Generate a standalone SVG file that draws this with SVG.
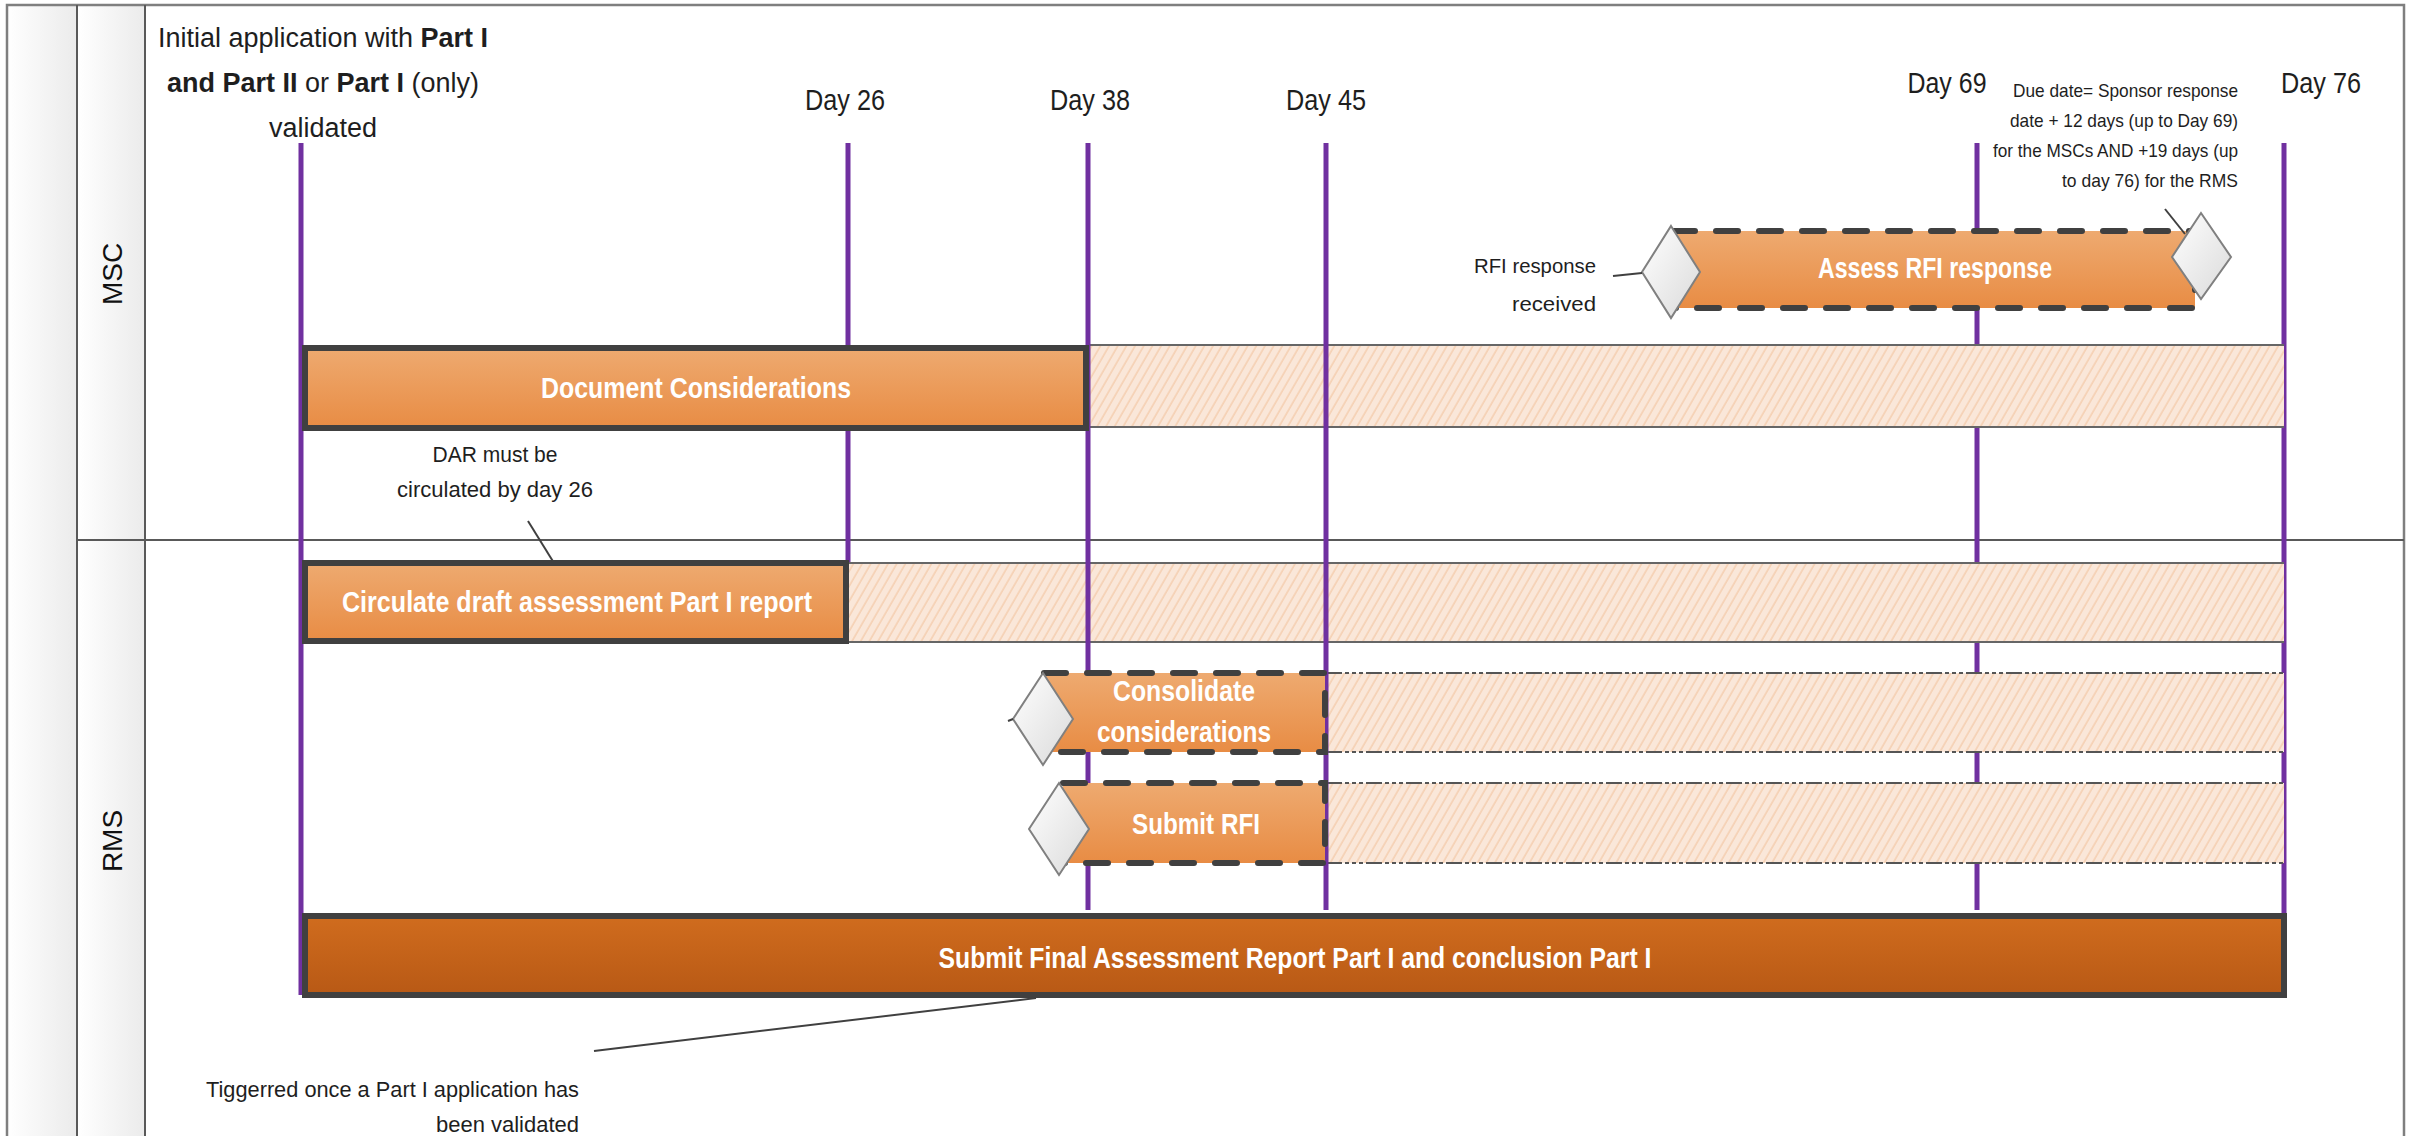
<svg xmlns="http://www.w3.org/2000/svg" width="2410" height="1136" viewBox="0 0 2410 1136">
<defs>
  <linearGradient id="gOrange" x1="0" y1="0" x2="0" y2="1">
    <stop offset="0" stop-color="#EEAA70"/>
    <stop offset="1" stop-color="#E88C44"/>
  </linearGradient>
  <linearGradient id="gDark" x1="0" y1="0" x2="0" y2="1">
    <stop offset="0" stop-color="#D06C1E"/>
    <stop offset="1" stop-color="#B85915"/>
  </linearGradient>
  <linearGradient id="gDiamond" x1="0" y1="0" x2="1" y2="1">
    <stop offset="0" stop-color="#FFFFFF"/>
    <stop offset="1" stop-color="#DADADA"/>
  </linearGradient>
  <linearGradient id="gCol" x1="0" y1="0" x2="1" y2="0">
    <stop offset="0" stop-color="#FFFFFF"/>
    <stop offset="1" stop-color="#EBEBEB"/>
  </linearGradient>
  <pattern id="hatch" width="7.5" height="7.5" patternUnits="userSpaceOnUse" patternTransform="rotate(30)">
    <rect width="7.5" height="7.5" fill="#FAE7D9"/>
    <line x1="1" y1="0" x2="1" y2="7.5" stroke="#F4CBAA" stroke-width="1.3"/>
  </pattern>
</defs>
<style>
  .t{font-family:"Liberation Sans",Arial,sans-serif;fill:#1e1e1e}
  .w{font-family:"Liberation Sans",Arial,sans-serif;fill:#FFFFFF;font-weight:bold;font-size:29px;text-anchor:middle}
  .day{font-size:30px;text-anchor:middle}
  .lane{font-size:28px;text-anchor:middle;fill:#111}
  .pl{stroke:#7030A0;stroke-width:5}
  .box{fill:url(#gOrange);stroke:#404040;stroke-width:6}
  .fbox{fill:url(#gDark);stroke:#404040;stroke-width:6}
  .dbox{fill:url(#gOrange);stroke:#404040;stroke-width:6;stroke-dasharray:22 21;stroke-linecap:round}
  .hatch{fill:url(#hatch);stroke:none}
  .hs{stroke:#666666;stroke-width:2}
  .hd{stroke:#555555;stroke-width:2;stroke-dasharray:16 3 4 3 4 3 4 3}
  .dia{fill:url(#gDiamond);stroke:#808080;stroke-width:2}
  .cn{stroke:#404040;stroke-width:2;fill:none}
</style>

<rect x="0" y="0" width="2410" height="1136" fill="#FFFFFF"/>

<g id="pool">
  <rect x="7" y="5" width="70" height="1140" fill="url(#gCol)"/>
  <rect x="77" y="5" width="68" height="1140" fill="url(#gCol)"/>
  <rect x="7" y="5" width="2397" height="1140" fill="none" stroke="#7F7F7F" stroke-width="2.5"/>
  <line x1="77" y1="5" x2="77" y2="1136" stroke="#595959" stroke-width="2"/>
  <line x1="145" y1="5" x2="145" y2="1136" stroke="#595959" stroke-width="2"/>
  <line x1="77" y1="540" x2="2404" y2="540" stroke="#595959" stroke-width="2"/>
</g>

<g id="lane-msc"><text class="t lane" transform="translate(122,274) rotate(-90)">MSC</text></g>
<g id="lane-rms"><text class="t lane" transform="translate(122,841) rotate(-90)">RMS</text></g>

<g id="milestone-labels">
  <text class="t" font-size="27" text-anchor="middle" x="323" y="47">Initial application with <tspan font-weight="bold">Part I</tspan></text>
  <text class="t" font-size="27" text-anchor="middle" x="323" y="92"><tspan font-weight="bold">and Part II</tspan> or <tspan font-weight="bold">Part I</tspan>  (only)</text>
  <text class="t" font-size="27" text-anchor="middle" x="323" y="137">validated</text>
  <text class="t day" x="845" y="110" textLength="80" lengthAdjust="spacingAndGlyphs">Day 26</text>
  <text class="t day" x="1090" y="110" textLength="80" lengthAdjust="spacingAndGlyphs">Day 38</text>
  <text class="t day" x="1326" y="110" textLength="80" lengthAdjust="spacingAndGlyphs">Day 45</text>
  <text class="t day" x="1947" y="93" textLength="79" lengthAdjust="spacingAndGlyphs">Day 69</text>
  <text class="t day" x="2321" y="93" textLength="80" lengthAdjust="spacingAndGlyphs">Day 76</text>
</g>

<g id="timeline-under">
  <line class="pl" x1="301" y1="143" x2="301" y2="995"/>
  <line class="pl" x1="848" y1="143" x2="848" y2="642"/>
  <line class="pl" x1="1977" y1="143" x2="1977" y2="910"/>
  <line class="pl" x1="2284" y1="143" x2="2284" y2="916"/>
</g>

<g id="hatch-doc">
  <rect class="hatch" x="1088" y="345" width="1196" height="82"/>
  <line class="hs" x1="1088" y1="345" x2="2284" y2="345"/>
  <line class="hs" x1="1088" y1="427" x2="2284" y2="427"/>
</g>
<g id="hatch-circulate">
  <rect class="hatch" x="848" y="563" width="1436" height="79"/>
  <line class="hs" x1="848" y1="563" x2="2284" y2="563"/>
  <line class="hs" x1="848" y1="642" x2="2284" y2="642"/>
</g>
<g id="hatch-consolidate">
  <rect class="hatch" x="1326" y="673" width="958" height="79"/>
  <line class="hd" x1="1326" y1="673" x2="2284" y2="673"/>
  <line class="hd" x1="1326" y1="752" x2="2284" y2="752"/>
</g>
<g id="hatch-rfi">
  <rect class="hatch" x="1326" y="783" width="958" height="80"/>
  <line class="hd" x1="1326" y1="783" x2="2284" y2="783"/>
  <line class="hd" x1="1326" y1="863" x2="2284" y2="863"/>
</g>

<g id="timeline-over">
  <line class="pl" x1="1088" y1="143" x2="1088" y2="910"/>
  <line class="pl" x1="1326" y1="143" x2="1326" y2="910"/>
</g>

<g id="document-considerations">
  <rect class="box" x="305" y="348" width="781" height="80"/>
  <text class="w" x="696" y="398" textLength="310" lengthAdjust="spacingAndGlyphs">Document Considerations</text>
</g>

<g id="assess-rfi-response">
  <rect class="dbox" x="1673" y="231" width="522" height="77"/>
  <polygon class="dia" points="1671,226 1700,272 1671,318 1642,272"/>
  <polygon class="dia" points="2201,213 2231,257 2201,299 2172,257"/>
  <text class="w" x="1935" y="278" textLength="234" lengthAdjust="spacingAndGlyphs">Assess RFI response</text>
</g>

<g id="circulate-draft">
  <rect class="box" x="305" y="563" width="541" height="78"/>
  <text class="w" x="577" y="612" textLength="470" lengthAdjust="spacingAndGlyphs">Circulate draft assessment Part I report</text>
</g>

<g id="consolidate-considerations">
  <rect class="dbox" x="1044" y="673" width="281" height="79"/>
  <polygon class="dia" points="1043,673 1073,719 1043,765 1013,719"/>
  <text class="w" x="1184" y="701" textLength="142" lengthAdjust="spacingAndGlyphs">Consolidate</text>
  <text class="w" x="1184" y="742" textLength="174" lengthAdjust="spacingAndGlyphs">considerations</text>
</g>

<g id="submit-rfi">
  <rect class="dbox" x="1063" y="783" width="262" height="80"/>
  <polygon class="dia" points="1059,783 1089,829 1059,875 1029,829"/>
  <text class="w" x="1196" y="834" textLength="128" lengthAdjust="spacingAndGlyphs">Submit RFI</text>
</g>

<g id="submit-final-report">
  <rect class="fbox" x="305" y="916" width="1979" height="79"/>
  <text class="w" x="1295" y="968" textLength="713" lengthAdjust="spacingAndGlyphs">Submit Final Assessment Report Part I and conclusion Part I</text>
</g>

<g id="note-due-date">
  <text class="t" font-size="18.5" text-anchor="end" x="2238" y="97" textLength="225" lengthAdjust="spacingAndGlyphs">Due date= Sponsor response</text>
  <text class="t" font-size="18.5" text-anchor="end" x="2238" y="127" textLength="228" lengthAdjust="spacingAndGlyphs">date + 12 days (up to Day 69)</text>
  <text class="t" font-size="18.5" text-anchor="end" x="2238" y="157" textLength="245" lengthAdjust="spacingAndGlyphs">for the MSCs AND +19 days (up</text>
  <text class="t" font-size="18.5" text-anchor="end" x="2238" y="187" textLength="176" lengthAdjust="spacingAndGlyphs">to day 76) for the RMS</text>
</g>

<g id="note-rfi-received">
  <text class="t" font-size="21" text-anchor="end" x="1596" y="273" textLength="122" lengthAdjust="spacingAndGlyphs">RFI response</text>
  <text class="t" font-size="21" text-anchor="end" x="1596" y="311" textLength="84" lengthAdjust="spacingAndGlyphs">received</text>
</g>

<g id="note-dar">
  <text class="t" font-size="22" text-anchor="middle" x="495" y="462" textLength="125" lengthAdjust="spacingAndGlyphs">DAR must be</text>
  <text class="t" font-size="22" text-anchor="middle" x="495" y="497" textLength="196" lengthAdjust="spacingAndGlyphs">circulated by day 26</text>
</g>

<g id="note-triggered">
  <text class="t" font-size="22" text-anchor="end" x="579" y="1097" textLength="373" lengthAdjust="spacingAndGlyphs">Tiggerred once a Part I application has</text>
  <text class="t" font-size="22" text-anchor="end" x="579" y="1132" textLength="143" lengthAdjust="spacingAndGlyphs">been validated</text>
</g>

<g id="connectors">
  <line class="cn" x1="1613" y1="276" x2="1642" y2="273"/>
  <line class="cn" x1="2165" y1="209" x2="2185" y2="234"/>
  <line class="cn" x1="528" y1="521" x2="554" y2="563"/>
  <line class="cn" x1="594" y1="1051" x2="1036" y2="998"/>
  <line class="cn" x1="1008" y1="721" x2="1013" y2="719"/>
</g>
</svg>
